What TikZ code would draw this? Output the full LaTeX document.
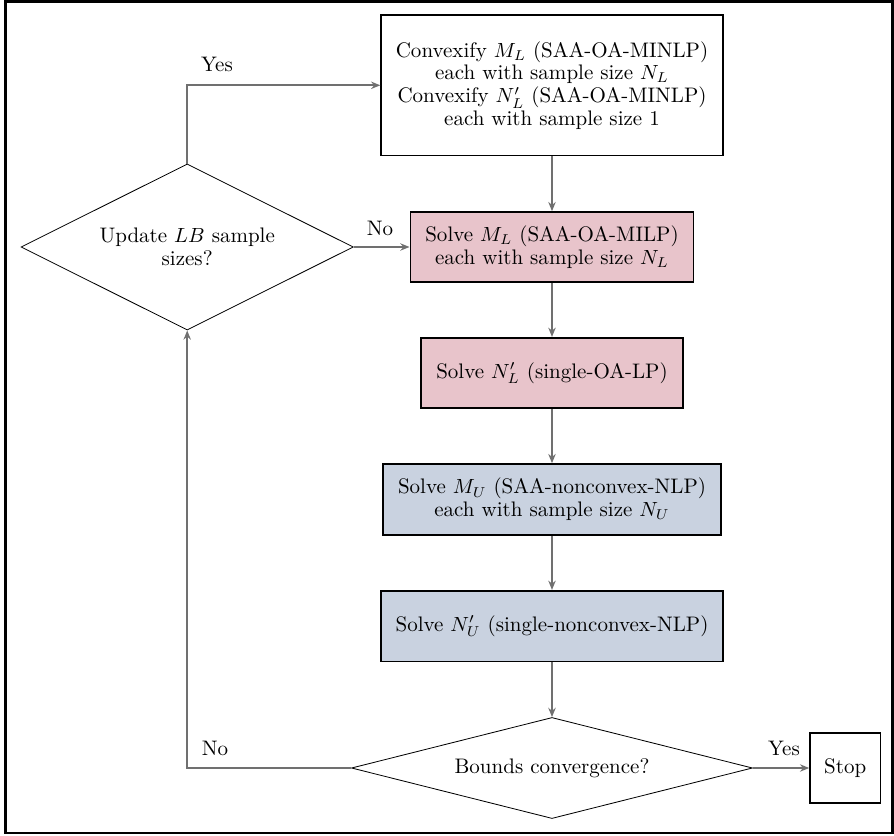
\documentclass[tikz,border=0pt]{standalone}
\usetikzlibrary{shapes.geometric,arrows.meta}
\definecolor{pinkfill}{RGB}{232,196,203}
\definecolor{bluefill}{RGB}{201,210,224}
\definecolor{arrgray}{RGB}{112,112,112}
\begin{document}
\begin{tikzpicture}[x=0.4878pt,y=-0.4878pt,
  every node/.style={font=\fontsize{10.25}{11.1}\selectfont},
  procbox/.style={draw=black, line width=0.8pt, align=center, inner sep=0pt},
  decision/.style={diamond, draw=black, line width=0.4pt, inner sep=0pt, align=center},
  flow/.style={draw=arrgray, line width=0.8pt, -{Stealth[length=4.5pt,width=3.6pt]}},
  lbl/.style={inner sep=0pt}
]
\useasboundingbox (0,0) rectangle (894,836);
\draw[line width=1pt] (5.5,1.5) rectangle (892.5,833);

\node[procbox, minimum width=166.7pt, minimum height=68.6pt] (conv) at (552,85.3)
  {Convexify $M_L$ (SAA-OA-MINLP)\\ each with sample size $N_L$\\ Convexify $N'_L$ (SAA-OA-MINLP)\\ each with sample size 1};
\node[procbox, fill=pinkfill, minimum width=138.2pt, minimum height=34.1pt] (milp) at (552,247)
  {Solve $M_L$ (SAA-OA-MILP)\\ each with sample size $N_L$};
\node[procbox, fill=pinkfill, minimum width=127.5pt, minimum height=34.4pt] (lp) at (552,373)
  {Solve $N'_L$ (single-OA-LP)};
\node[procbox, fill=bluefill, minimum width=164.6pt, minimum height=34.6pt] (nlp) at (552,499.5)
  {Solve $M_U$ (SAA-nonconvex-NLP)\\ each with sample size $N_U$};
\node[procbox, fill=bluefill, minimum width=166.8pt, minimum height=34.6pt] (snlp) at (552,626.2)
  {Solve $N'_U$ (single-nonconvex-NLP)};
\node[decision, aspect=4, minimum width=195.6pt, minimum height=49.3pt] (bconv) at (552,768)
  {Bounds convergence?};
\node[procbox, minimum width=34.3pt, minimum height=34.3pt] (stop) at (845.2,768) {Stop};
\node[decision, aspect=2, minimum width=162.1pt, minimum height=81pt] (upd) at (187.2,247)
  {Update $LB$ sample\\ sizes?};

\draw[flow] (conv) -- (milp);
\draw[flow] (milp) -- (lp);
\draw[flow] (lp) -- (nlp);
\draw[flow] (nlp) -- (snlp);
\draw[flow] (snlp) -- (bconv);
\draw[flow] (bconv) -- (stop);
\draw[flow] (upd) -- (milp);
\draw[flow] (bconv.west) -| (upd.south);
\draw[flow] (upd.north) |- (conv.west);

\node[lbl] (yes1) at (217,64) {Yes};
\node[lbl] (no1) at (380,228) {No};
\node[lbl] (no2) at (215,748) {No};
\node[lbl] (yes2) at (784,748) {Yes};
\end{tikzpicture}
\end{document}
